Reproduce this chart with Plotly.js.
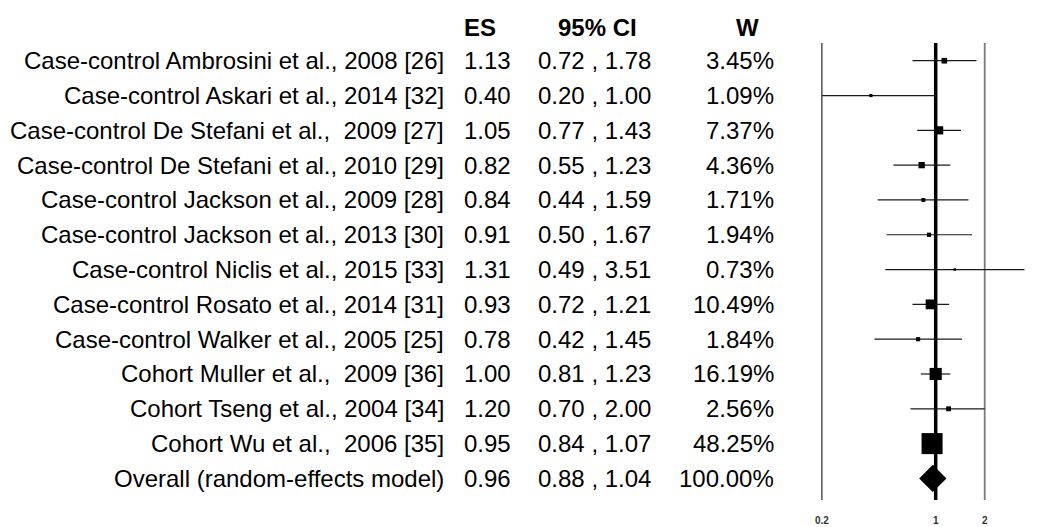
<!DOCTYPE html>
<html>
<head>
<meta charset="utf-8">
<script src="https://cdn.plot.ly/plotly-3.0.1.min.js"></script>
<style>html,body{margin:0;padding:0;background:#fff;}#chart{width:1040px;height:527px;}</style>
</head>
<body>
<div id="chart"></div>
<script>
const studies = [
  "Case-control Ambrosini et al., 2008 [26]",
  "Case-control Askari et al., 2014 [32]",
  "Case-control De Stefani et al.,\u00a0 2009 [27]",
  "Case-control De Stefani et al., 2010 [29]",
  "Case-control Jackson et al., 2009 [28]",
  "Case-control Jackson et al., 2013 [30]",
  "Case-control Niclis et al., 2015 [33]",
  "Case-control Rosato et al., 2014 [31]",
  "Case-control Walker et al., 2005 [25]",
  "Cohort Muller et al.,\u00a0 2009 [36]",
  "Cohort Tseng et al., 2004 [34]",
  "Cohort Wu et al.,\u00a0 2006 [35]"
];
const es = [1.13, 0.40, 1.05, 0.82, 0.84, 0.91, 1.31, 0.93, 0.78, 1.00, 1.20, 0.95];
const ciLow = [0.72, 0.20, 0.77, 0.55, 0.44, 0.50, 0.49, 0.72, 0.42, 0.81, 0.70, 0.84];
const ciHigh = [1.78, 1.00, 1.43, 1.23, 1.59, 1.67, 3.51, 1.21, 1.45, 1.23, 2.00, 1.07];
const weights = [3.45, 1.09, 7.37, 4.36, 1.71, 1.94, 0.73, 10.49, 1.84, 16.19, 2.56, 48.25];
const overallLabel = "Overall (random-effects model)";
const overallES = 0.96, overallLow = 0.88, overallHigh = 1.04, overallW = 100.00;
const headers = ["ES", "95% CI", "W"];
const tickVals = [0.2, 1, 2];
const tickText = ["0.2", "1", "2"];
const refLines = [0.2, 1, 2];

const W = 1040;
const px = v => v / W;
const FONT = "Liberation Sans, Arial, sans-serif";
const FS = 24;
const rows = studies.map((_, i) => i);
const overallRow = studies.length;

// CI lines
const lx = [], ly = [];
rows.forEach(i => { lx.push(ciLow[i], ciHigh[i], null); ly.push(i, i, null); });

const maxW = Math.max(...weights);
const sizes = weights.map(w => 21 * Math.sqrt(w / maxW));

const traces = [
  {x: lx, y: ly, type: 'scatter', mode: 'lines', line: {color: '#1a1a1a', width: 1.2},
   hoverinfo: 'skip', showlegend: false, cliponaxis: false},
  {x: es, y: rows, type: 'scatter', mode: 'markers',
   marker: {symbol: 'square', size: sizes, color: '#000', opacity: 1, line: {width: 0}},
   showlegend: false, cliponaxis: false},
  {x: [overallES], y: [overallRow], type: 'scatter', mode: 'markers',
   marker: {symbol: 'diamond', size: 21, color: '#000', opacity: 1, line: {width: 0}},
   showlegend: false, cliponaxis: false}
];

const fmt2 = v => v.toFixed(2);
const ann = [];
const txt = (x, y, text, anchor, bold, yref) => ann.push({
  xref: 'paper', yref: yref || 'y', x: px(x), y: y, text: bold ? '<b>' + text + '</b>' : text,
  xanchor: anchor, yanchor: 'middle', showarrow: false, borderpad: 0,
  font: {family: FONT, size: FS, color: '#000'}
});
const allLabels = studies.concat([overallLabel]);
const allES = es.concat([overallES]);
const allLo = ciLow.concat([overallLow]);
const allHi = ciHigh.concat([overallHigh]);
const allW = weights.concat([overallW]);
allLabels.forEach((s, i) => {
  txt(445, i, s, 'right');
  txt(463, i, fmt2(allES[i]), 'left');
  txt(537, i, fmt2(allLo[i]) + " , " + fmt2(allHi[i]), 'left');
  txt(775, i, allW[i].toFixed(2) + "%", 'right');
});
const headerY = (500 - 27.8) / 457;
txt(463, headerY, headers[0], 'left', true, 'paper');
txt(597, headerY, headers[1], 'center', true, 'paper');
txt(747, headerY, headers[2], 'center', true, 'paper');

const shapes = refLines.map(v => ({
  type: 'line', xref: 'x', yref: 'paper', x0: v, x1: v, y0: 0, y1: 1,
  line: {color: v === 1 ? '#000' : (v === 2 ? '#7a7a7a' : '#111'), width: v === 1 ? 3.5 : (v === 2 ? 1.8 : 1.1)},
  layer: 'below'
}));

const layout = {
  width: 1040, height: 527,
  margin: {l: 0, r: 0, t: 43, b: 27, pad: 0},
  paper_bgcolor: '#fff', plot_bgcolor: '#fff',
  showlegend: false,
  xaxis: {
    type: 'log', domain: [800 / W, 1], range: [-0.8335, 0.6407],
    tickvals: tickVals, ticktext: tickText, ticks: '', showgrid: false,
    zeroline: false, showline: false, ticklabelstandoff: 13,
    tickfont: {family: FONT, size: 10, color: '#333', weight: 'bold'}
  },
  yaxis: {
    range: [12.62, -0.509], showgrid: false, zeroline: false, showline: false,
    showticklabels: false, ticks: ''
  },
  shapes: shapes,
  annotations: ann
};

Plotly.newPlot('chart', traces, layout, {displayModeBar: false, staticPlot: true});
</script>
</body>
</html>
